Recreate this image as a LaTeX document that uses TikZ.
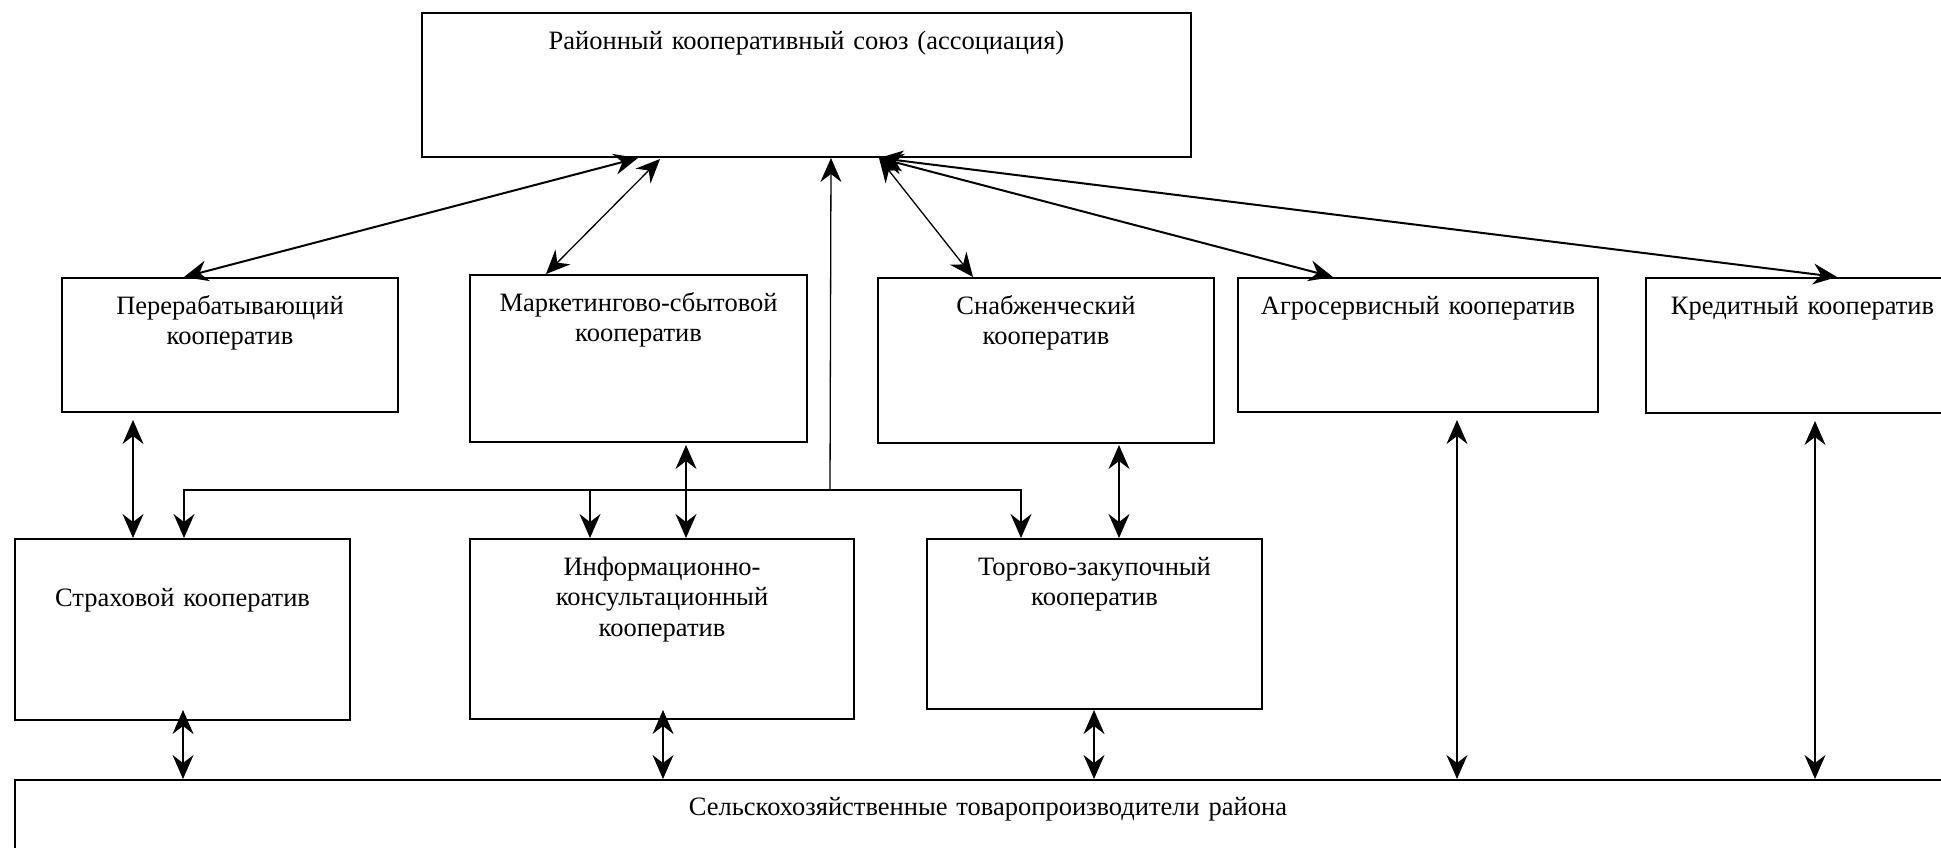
\documentclass[tikz,border=0pt]{standalone}
\usepackage{fontspec}
\setmainfont{Liberation Serif}
\usetikzlibrary{arrows.meta}

\tikzset{
	coop/.style={draw, line width=2pt, anchor=north west, inner xsep=5pt, inner ysep=0pt,
		align=center, text height=36pt, font=\fontsize{26.5}{30.5}\selectfont},
	link/.style={line width=1.3pt},
	heavy/.style={line width=2pt},
	>={Stealth[length=24pt,width=21pt,inset=8pt]}
}

\begin{document}
\begin{tikzpicture}[x=1pt,y=-1pt]
		%%%%% START %%%%%
		\useasboundingbox (0,0) rectangle (1941,847);
		
		\node[coop, text width=759pt, text depth=108pt] (union) at (421,12) {Районный кооперативный союз (ассоциация)};
		
		\node[coop, text width=326pt, text depth=98pt] (perer) at (61,277) {Перерабатывающий\\кооператив};
		\node[coop, text width=327pt, text depth=131pt] (market) at (469,274) {Маркетингово-сбытовой\\кооператив};
		\node[coop, text width=326pt, text depth=129pt] (snab) at (877,277) {Снабженческий\\кооператив};
		\node[coop, text width=350pt, text depth=98pt] (agro) at (1237,277) {Агросервисный кооператив};
		\node[coop, text width=303pt, text depth=99pt] (credit) at (1645,277) {Кредитный кооператив};
		
		\node[coop, text width=325pt, text height=67pt, text depth=114pt] (strah) at (14,538) {Страховой кооператив};
		\node[coop, text width=374pt, text depth=144pt] (info) at (469,538) {Информационно-\\консультационный\\кооператив};
		\node[coop, text width=325pt, text depth=134pt] (torg) at (926,538) {Торгово-закупочный\\кооператив};
		
		\node[coop, text width=1936pt, text height=35pt, text depth=46pt] (farm) at (14,779) {Сельскохозяйственные товаропроизводители района};
		
		% union -- first row
		\draw[heavy, <->] ([xshift=-168.5pt]union.south) -- ([xshift=-46pt]perer.north);
		\draw[link, <->] ([xshift=-146.5pt,yshift=-1pt]union.south) -- ([xshift=-92.5pt]market.north);
		\draw[link, <->] ([xshift=72.5pt]union.south) -- ([xshift=-73pt]snab.north);
		\draw[heavy, <->] ([xshift=72.5pt]union.south) -- ([xshift=-85pt]agro.north);
		\draw[heavy, <->] ([xshift=72.5pt]union.south) -- ([xshift=34.5pt]credit.north);
		
		% bus
		\coordinate (bus) at (830,490);
		\draw[link, ->] (bus) -- ([xshift=24.5pt]union.south);
		\draw[heavy, ->] (bus) -| ([xshift=1.5pt]strah.north);
		\draw[heavy, ->] (bus) -| ([xshift=-73.5pt]torg.north);
		\draw[link, ->] ([xshift=-72pt]info.north |- bus) -- ([xshift=-72pt]info.north);
		
		% first row -- second row
		\draw[link, <->] ([xshift=-97pt,yshift=-7pt]perer.south) -- ([xshift=-49.5pt]strah.north);
		\draw[link, <->] ([xshift=47.5pt,yshift=-2pt]market.south) -- ([xshift=24pt]info.north);
		\draw[link, <->] ([xshift=73pt,yshift=-1pt]snab.south) -- ([xshift=24.5pt]torg.north);
		
		% down to the producers
		\draw[link, <->] ([xshift=0.5pt,yshift=11pt]strah.south) -- ([xshift=-805pt]farm.north);
		\draw[link, <->] ([xshift=1pt,yshift=10pt]info.south) -- ([xshift=-325pt]farm.north);
		\draw[link, <->] ([xshift=-0.5pt]torg.south) -- ([xshift=106pt]farm.north);
		\draw[link, <->] ([xshift=39pt,yshift=-7pt]agro.south) -- ([xshift=469pt]farm.north);
		\draw[link, <->] ([xshift=12.5pt,yshift=-7pt]credit.south) -- ([xshift=827pt]farm.north);
		%%%%% END %%%%%
\end{tikzpicture}
\end{document}
